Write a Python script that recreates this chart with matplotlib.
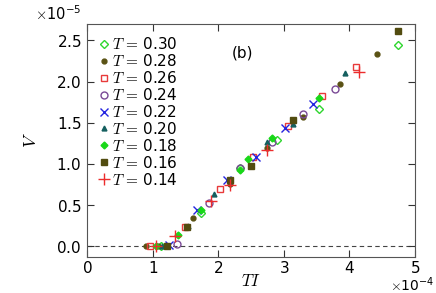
import matplotlib; matplotlib.use("Agg")
import matplotlib.pyplot as plt
import matplotlib.ticker as mticker
import numpy as np

# data: TI in units of 1e-4, V in units of 1e-5
t030_x=[1.13,1.74,2.33,2.90,3.54,4.74]; t030_y=[0.0,0.41,0.95,1.29,1.67,2.44]
t028_x=[0.90,1.08,1.62,2.18,2.74,3.29,3.86,4.42]; t028_y=[0.0,0.0,0.34,0.76,1.19,1.57,1.97,2.33]
t026_x=[0.96,1.49,2.03,2.53,3.06,3.58,4.10]; t026_y=[0.0,0.23,0.69,1.09,1.46,1.82,2.18]
t024_x=[1.37,1.86,2.33,2.82,3.29,3.78]; t024_y=[0.03,0.53,0.95,1.27,1.61,1.91]
t022_x=[1.24,1.67,2.13,2.58,3.02,3.45]; t022_y=[0.02,0.44,0.80,1.09,1.44,1.73]
t020_x=[1.14,1.54,1.94,2.74,3.14,3.93]; t020_y=[0.0,0.25,0.64,1.27,1.48,2.10]
t018_x=[1.05,1.39,1.74,2.33,2.45,2.82,3.54]; t018_y=[0.0,0.14,0.44,0.93,1.06,1.31,1.80]
t016_x=[1.22,1.52,2.18,2.50,3.14,4.74]; t016_y=[0.0,0.23,0.80,0.97,1.53,2.62]
t014_x=[1.05,1.34,1.89,2.18,2.74,4.15]; t014_y=[0.0,0.13,0.55,0.74,1.17,2.12]

SERIES=[("0.30",t030_x,t030_y,dict(marker="D",ms=4.5,mfc="none",mec="#2fd62f",mew=1.0)),
        ("0.28",t028_x,t028_y,dict(marker="o",ms=3.5,mfc="#5a5214",mec="#5a5214")),
        ("0.26",t026_x,t026_y,dict(marker="s",ms=5,mfc="none",mec="#e83a3a",mew=1.0)),
        ("0.24",t024_x,t024_y,dict(marker="o",ms=5,mfc="none",mec="#7a4a96",mew=1.0)),
        ("0.22",t022_x,t022_y,dict(marker="x",ms=6,mec="#2424e0",mew=1.0)),
        ("0.20",t020_x,t020_y,dict(marker="^",ms=3.5,mfc="#145f5f",mec="#145f5f")),
        ("0.18",t018_x,t018_y,dict(marker="D",ms=3.5,mfc="#18d818",mec="#18d818")),
        ("0.16",t016_x,t016_y,dict(marker="s",ms=4,mfc="#524c10",mec="#524c10")),
        ("0.14",t014_x,t014_y,dict(marker="+",ms=8,mec="#ec2c2c",mew=1.0))]

plt.rcParams.update({"font.family":"DejaVu Sans","font.size":10.5,"mathtext.fontset":"cm"})
fig=plt.figure(figsize=(4.36,2.93),dpi=100)
ax=fig.add_axes([0.2,0.123,0.752,0.795])
ax.axhline(0,color="#444444",lw=0.8,ls=(0,(4,3)),zorder=0)
for lbl,xs,ys,st in SERIES:
    ax.plot(np.array(xs)*1e-4,np.array(ys)*1e-5,ls="none",label=f"$T\\,=\\,$"+lbl,**st)
ax.set_xlim(0,5e-4); ax.set_ylim(-0.13e-5,2.7e-5)
ax.xaxis.set_major_locator(mticker.MultipleLocator(1e-4))
ax.yaxis.set_major_locator(mticker.MultipleLocator(0.5e-5))
for a in (ax.xaxis,ax.yaxis):
    f=mticker.ScalarFormatter(useMathText=True); f.set_powerlimits((0,0)); a.set_major_formatter(f)
ax.tick_params(direction="in",top=True,right=True,length=5,width=0.8,colors="#333333",
               labelcolor="black",labelsize=11,pad=4)
ax.tick_params(axis="x",pad=2)
ax.yaxis.get_offset_text().set_x(-0.16)
ax.yaxis.get_offset_text().set_fontsize(10.5)
# x multiplier drawn by hand so it sits inside the canvas
ax.xaxis.get_offset_text().set_visible(False)
ax.text(1.06,-0.12,r"$\times\mathregular{10^{-4}}$",transform=ax.transAxes,ha="right",va="center",fontsize=10)
for sp in ax.spines.values(): sp.set_color("#555555"); sp.set_linewidth(0.8)
ax.set_xlabel("$TI$",fontsize=12,labelpad=-3)
ax.set_ylabel("$V$",fontsize=13,labelpad=12)
ax.text(0.475,0.875,"(b)",transform=ax.transAxes,fontsize=11,ha="center",va="center")
ax.legend(loc="upper left",frameon=False,handlelength=0.6,handletextpad=0.2,labelspacing=0.06,
          borderaxespad=0.5,borderpad=0.3,fontsize=11)
plt.savefig("out.png",dpi=100)
